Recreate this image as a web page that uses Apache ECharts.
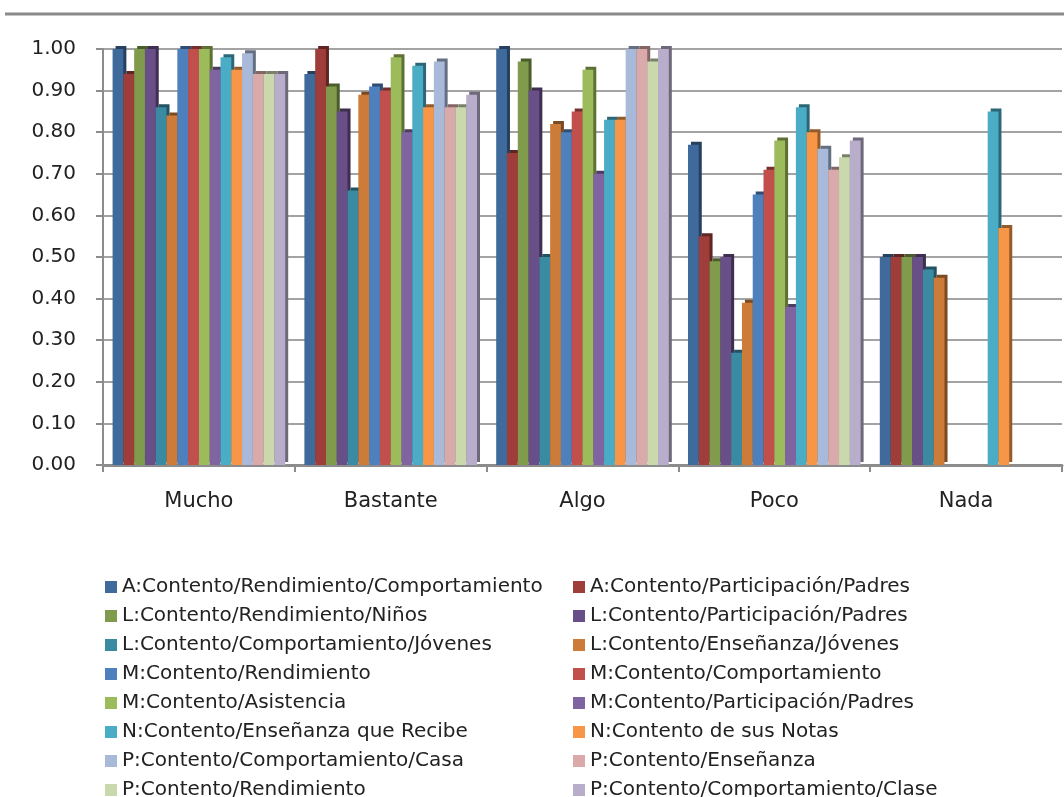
<!DOCTYPE html>
<html>
<head>
<meta charset="utf-8">
<title>Contento por categoría</title>
<script src="https://cdn.jsdelivr.net/npm/echarts@6/dist/echarts.min.js"></script>
<style>
  html, body { margin: 0; padding: 0; background: #fff; }
  #chart { width: 1064px; height: 797px; }
</style>
</head>
<body>
<div id="chart"></div>
<script>
// Response categories on the x axis
const categories = ['Mucho', 'Bastante', 'Algo', 'Poco', 'Nada'];

// Y axis tick values
const yTicks = [0, 0.1, 0.2, 0.3, 0.4, 0.5, 0.6, 0.7, 0.8, 0.9, 1.0];

// One array per series, values for Mucho, Bastante, Algo, Poco, Nada
const aRendComp      = [1.00, 0.94, 1.00, 0.77, 0.50];
const aPartPadres    = [0.94, 1.00, 0.75, 0.55, 0.50];
const lRendNinos     = [1.00, 0.91, 0.97, 0.49, 0.50];
const lPartPadres    = [1.00, 0.85, 0.90, 0.50, 0.50];
const lCompJovenes   = [0.86, 0.66, 0.50, 0.27, 0.47];
const lEnsJovenes    = [0.84, 0.89, 0.82, 0.39, 0.45];
const mRend          = [1.00, 0.91, 0.80, 0.65, null];
const mComp          = [1.00, 0.90, 0.85, 0.71, null];
const mAsistencia    = [1.00, 0.98, 0.95, 0.78, null];
const mPartPadres    = [0.95, 0.80, 0.70, 0.38, null];
const nEnsRecibe     = [0.98, 0.96, 0.83, 0.86, 0.85];
const nNotas         = [0.95, 0.86, 0.83, 0.80, 0.57];
const pCompCasa      = [0.99, 0.97, 1.00, 0.76, null];
const pEnsenanza     = [0.94, 0.86, 1.00, 0.71, null];
const pRend          = [0.94, 0.86, 0.97, 0.74, null];
const pCompClase     = [0.94, 0.89, 1.00, 0.78, null];

const seriesNames = [
  'A:Contento/Rendimiento/Comportamiento',
  'A:Contento/Participación/Padres',
  'L:Contento/Rendimiento/Niños',
  'L:Contento/Participación/Padres',
  'L:Contento/Comportamiento/Jóvenes',
  'L:Contento/Enseñanza/Jóvenes',
  'M:Contento/Rendimiento',
  'M:Contento/Comportamiento',
  'M:Contento/Asistencia',
  'M:Contento/Participación/Padres',
  'N:Contento/Enseñanza que Recibe',
  'N:Contento de sus Notas',
  'P:Contento/Comportamiento/Casa',
  'P:Contento/Enseñanza',
  'P:Contento/Rendimiento',
  'P:Contento/Comportamiento/Clase'
];

const seriesValues = [
  aRendComp, aPartPadres, lRendNinos, lPartPadres, lCompJovenes, lEnsJovenes,
  mRend, mComp, mAsistencia, mPartPadres, nEnsRecibe, nNotas,
  pCompCasa, pEnsenanza, pRend, pCompClase
];

const seriesColors = [
  '#3F6A9C', '#9E3D3A', '#7F9B4B', '#684F87', '#3A8BA2', '#CD7B38',
  '#4F80BE', '#C1504D', '#9CBB5A', '#8064A2', '#4BACC6', '#F79646',
  '#A9B9D9', '#D9AAA9', '#C9D8AD', '#B8AECB'
];

// darker tone used for the side face of each bar
function shade(hex, f) {
  const n = parseInt(hex.slice(1), 16);
  const r = Math.round(((n >> 16) & 255) * f);
  const g = Math.round(((n >> 8) & 255) * f);
  const b = Math.round((n & 255) * f);
  return 'rgb(' + r + ',' + g + ',' + b + ')';
}

const FONT = 'DejaVu Sans';
const TEXT = '#222';

const series = seriesNames.map((name, i) => ({
  name: name,
  type: 'bar',
  data: seriesValues[i],
  barGap: '0%',
  barCategoryGap: '10%',
  itemStyle: {
    color: seriesColors[i],
    shadowColor: shade(seriesColors[i], 0.6),
    shadowBlur: 0,
    shadowOffsetX: 3,
    shadowOffsetY: -3
  },
  emphasis: { disabled: true }
}));

const leftNames = seriesNames.filter((_, i) => i % 2 === 0);
const rightNames = seriesNames.filter((_, i) => i % 2 === 1);

const legendBase = {
  orient: 'vertical',
  top: 577,
  height: 260,
  padding: 0,
  itemWidth: 12,
  itemHeight: 12,
  itemGap: 9,
  icon: 'rect',
  selectedMode: false,
  textStyle: { fontFamily: FONT, fontSize: 20, color: TEXT, lineHeight: 20 }
};

const chart = echarts.init(document.getElementById('chart'), null, { renderer: 'canvas' });
chart.setOption({
  animation: false,
  backgroundColor: '#fff',
  color: seriesColors,
  grid: { left: 103, right: 2, top: 49, bottom: 332 },
  graphic: [{
    type: 'line',
    shape: { x1: 5, y1: 14, x2: 1064, y2: 14 },
    style: { stroke: '#8a8a8a', lineWidth: 3 }
  }],
  legend: [
    Object.assign({}, legendBase, { left: 105, data: leftNames }),
    Object.assign({}, legendBase, { left: 573, data: rightNames })
  ],
  xAxis: {
    type: 'category',
    data: categories,
    axisLine: { lineStyle: { color: '#8c8c8c', width: 3 } },
    axisTick: { show: true, length: 7, lineStyle: { color: '#8c8c8c', width: 2 } },
    axisLabel: { fontFamily: FONT, fontSize: 21, color: TEXT, margin: 26 }
  },
  yAxis: {
    type: 'value',
    min: yTicks[0],
    max: yTicks[yTicks.length - 1],
    interval: 0.1,
    axisLine: { show: true, lineStyle: { color: '#8c8c8c', width: 2 } },
    axisTick: { show: true, length: 7, lineStyle: { color: '#8c8c8c', width: 2 } },
    axisLabel: {
      fontFamily: FONT, fontSize: 20, color: TEXT, margin: 27,
      formatter: v => v.toFixed(2)
    },
    splitLine: { lineStyle: { color: '#a3a3a3', width: 2 } }
  },
  series: series
});
</script>
</body>
</html>
